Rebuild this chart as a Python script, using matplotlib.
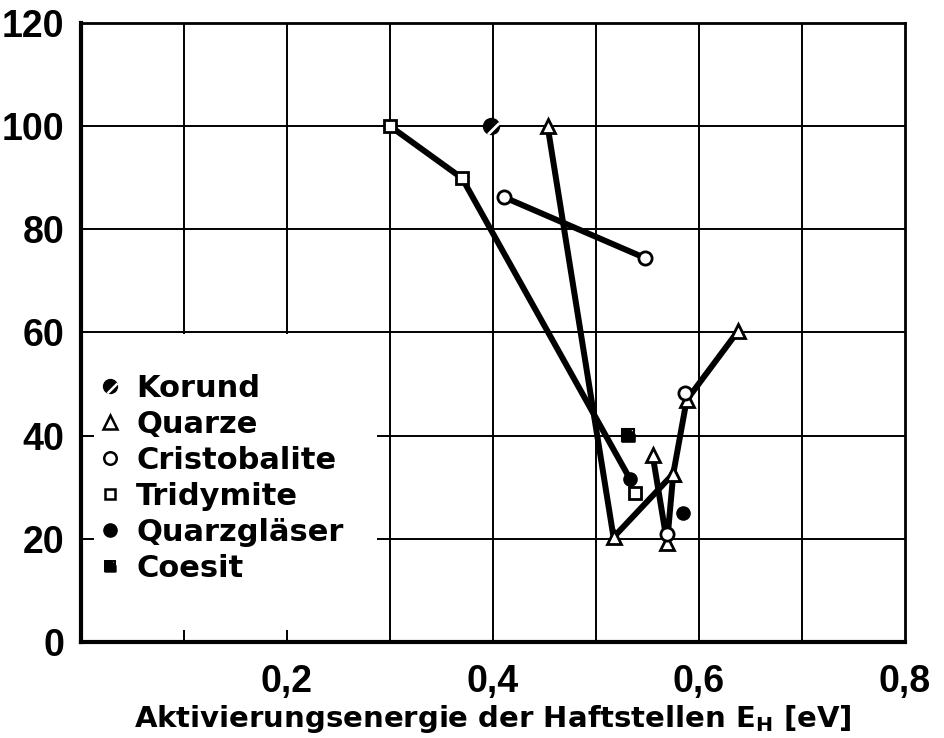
import matplotlib
matplotlib.use('Agg')
import matplotlib.pyplot as plt
from matplotlib.lines import Line2D
from matplotlib.path import Path
from matplotlib.patches import Rectangle

plt.rcParams['font.family'] = ['DejaVu Sans']
plt.rcParams['mathtext.fontset'] = 'dejavusans'

# --- data ---
korund_x = [0.398]
korund_y = [100]

quarze_a_x = [0.453, 0.517, 0.575]
quarze_a_y = [100, 20.3, 32.6]
quarze_b_x = [0.555, 0.569, 0.575, 0.588, 0.638]
quarze_b_y = [36.2, 19.2, 32.6, 46.9, 60.3]

cristo_line_x = [0.411, 0.548]
cristo_line_y = [86.2, 74.4]
cristo_pts_x = [0.569, 0.586]
cristo_pts_y = [20.9, 48.3]

# line runs from the tridymite squares down to the first quarzglas point
tridy_line_x = [0.300, 0.370, 0.533]
tridy_line_y = [100, 89.9, 31.6]
tridy_pts_x = [0.300, 0.370, 0.538]
tridy_pts_y = [100, 89.9, 28.9]

glas_x = [0.533, 0.584]
glas_y = [31.6, 25.0]

coesit_x = [0.531]
coesit_y = [40.1]

legend_names = ['Korund', 'Quarze', 'Cristobalite', 'Tridymite', 'Quarzgläser', 'Coesit']
x_ticks = [0.2, 0.4, 0.6, 0.8]
x_tick_labels = ['0,2', '0,4', '0,6', '0,8']
y_ticks = [0, 20, 40, 60, 80, 100, 120]
grid_x = [0.1, 0.2, 0.3, 0.4, 0.5, 0.6, 0.7]
grid_y = [20, 40, 60, 80, 100]

# custom markers: white slash for korund, notched square for coesit
slash = Path([(-0.18, -0.42), (0.42, 0.18)], [Path.MOVETO, Path.LINETO])
notch_sq = Path([(-1, -1), (1, -1), (1, 0.1), (0.1, 1), (-1, 1), (-1, -1)],
                [Path.MOVETO, Path.LINETO, Path.LINETO, Path.LINETO, Path.LINETO, Path.CLOSEPOLY])

fig = plt.figure(figsize=(9.45, 7.38), dpi=100)
ax = fig.add_axes([0.0857, 0.1301, 0.8720, 0.8388])
ax.set_xlim(0, 0.8)
ax.set_ylim(0, 120)

# grid
for gx in grid_x:
    ax.axvline(gx, color='k', lw=1.4, zorder=1)
for gy in grid_y:
    ax.axhline(gy, color='k', lw=1.4, zorder=1)
# legend field has no grid, only short stubs at the edges
ax.add_patch(Rectangle((0.0126, 2.3), 0.287 - 0.0126, 59.75 - 2.3,
                       facecolor='white', edgecolor='none', zorder=1.5))

lw = 4.3
mew = 2.0
# connecting lines
for xs, ys in [(quarze_a_x, quarze_a_y), (quarze_b_x, quarze_b_y),
               (cristo_line_x, cristo_line_y), (tridy_line_x, tridy_line_y)]:
    ax.plot(xs, ys, color='k', lw=lw, solid_capstyle='round', zorder=3)

# markers
ax.plot(quarze_a_x + quarze_b_x, quarze_a_y + quarze_b_y, ls='none', marker='^', ms=10,
        mfc='white', mec='k', mew=mew, zorder=4)
ax.plot(cristo_line_x + cristo_pts_x, cristo_line_y + cristo_pts_y, ls='none', marker='o', ms=9.5,
        mfc='white', mec='k', mew=mew, zorder=4)
ax.plot(tridy_pts_x, tridy_pts_y, ls='none', marker='s', ms=8,
        mfc='white', mec='k', mew=mew, zorder=4)
ax.plot(glas_x, glas_y, ls='none', marker='o', ms=9.5, mfc='k', mec='k', zorder=4)
ax.plot(korund_x, korund_y, ls='none', marker='o', ms=11.5, mfc='k', mec='k', zorder=4)
ax.plot(korund_x, korund_y, ls='none', marker=slash, ms=11.5, mec='white', mew=2.0, zorder=5)
ax.plot(coesit_x, coesit_y, ls='none', marker='s', ms=9, mfc='white', mec='k', mew=1.5, zorder=4)
ax.plot(coesit_x, coesit_y, ls='none', marker=notch_sq, ms=9, mfc='k', mec='k', mew=1.5, zorder=5)

# legend
lms = 10
handles = [
    (Line2D([], [], ls='none', marker='o', ms=lms, mfc='k', mec='k'),
     Line2D([], [], ls='none', marker=slash, ms=lms, mec='white', mew=1.8)),
    Line2D([], [], ls='none', marker='^', ms=lms, mfc='white', mec='k', mew=1.8),
    Line2D([], [], ls='none', marker='o', ms=lms - 1, mfc='white', mec='k', mew=1.8),
    Line2D([], [], ls='none', marker='s', ms=lms - 2.5, mfc='white', mec='k', mew=1.8),
    Line2D([], [], ls='none', marker='o', ms=lms - 0.5, mfc='k', mec='k'),
    (Line2D([], [], ls='none', marker='s', ms=lms - 2.5, mfc='white', mec='k', mew=1.4),
     Line2D([], [], ls='none', marker=notch_sq, ms=lms - 2.5, mfc='k', mec='k', mew=1.4)),
]
ax.legend(handles, legend_names, loc='upper left', bbox_to_anchor=(0.021, 52.0),
          bbox_transform=ax.transData, frameon=False, borderpad=0, borderaxespad=0,
          handlelength=0.5, handletextpad=0.6, labelspacing=0.23,
          prop={'family': 'DejaVu Sans', 'size': 22, 'weight': 'bold'})

# axes and ticks
for side in ['left', 'bottom']:
    ax.spines[side].set_linewidth(3)
for side in ['top', 'right']:
    ax.spines[side].set_linewidth(2)
ax.set_xticks(x_ticks, labels=x_tick_labels)
ax.set_yticks(y_ticks, labels=[str(v) for v in y_ticks])
ax.tick_params(axis='both', length=0, labelsize=27)
ax.tick_params(axis='y', pad=12)
ax.tick_params(axis='x', pad=16)
for lab in ax.get_xticklabels() + ax.get_yticklabels():
    lab.set_family(['Liberation Sans', 'DejaVu Sans'])
    lab.set_weight('bold')

ax.set_xlabel(r'Aktivierungsenergie der Haftstellen $\mathbf{E_H}$ [eV]',
              fontsize=21, fontweight='bold', labelpad=2)

fig.savefig('out.png', dpi=100)
